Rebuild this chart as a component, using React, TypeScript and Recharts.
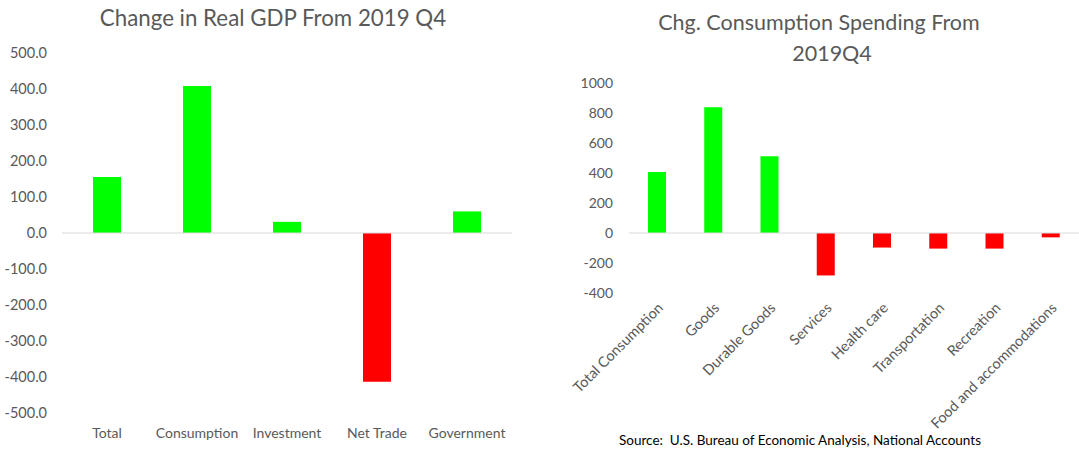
import React from 'react';
import { BarChart, Bar, XAxis, YAxis, ReferenceLine, Cell } from 'recharts';

const gdpCategories = ['Total', 'Consumption', 'Investment', 'Net Trade', 'Government'];
const gdpValues = [155.6, 408, 31, -413, 60];
const gdpTicks = [-500, -400, -300, -200, -100, 0, 100, 200, 300, 400, 500];

const consCategories = [
  'Total Consumption',
  'Goods',
  'Durable Goods',
  'Services',
  'Health care',
  'Transportation',
  'Recreation',
  'Food and accommodations',
];
const consValues = [407, 838, 511, -283, -97, -104, -104, -29];
const consTicks = [-400, -200, 0, 200, 400, 600, 800, 1000];

const gdpData = gdpCategories.map((name, i) => ({ name, value: gdpValues[i] }));
const consData = consCategories.map((name, i) => ({ name, value: consValues[i] }));

const FONT = 'Lato, "Open Sans", sans-serif';
const GRAY = '#595959';
const POS = '#00ff00';
const NEG = '#ff0000';

const AngledTick = (props: any) => {
  const { x, y, payload } = props;
  return (
    <g transform={`translate(${x + 4},${y + 13}) rotate(-45)`}>
      <text x={0} y={0} dy={4} textAnchor="end" fill={GRAY} fontSize={14.5} fontFamily={FONT}>
        {payload.value}
      </text>
    </g>
  );
};

export default function App() {
  return (
    <div style={{ position: 'absolute', left: 0, top: 0, width: 1079, height: 449, background: '#fff', fontFamily: FONT }}>
      <div style={{ position: 'absolute', left: 0, width: 546, top: 3, textAlign: 'center', fontSize: 22.3, color: GRAY, lineHeight: '30px' }}>
        Change in Real GDP From 2019 Q4
      </div>
      <div style={{ position: 'absolute', left: 619, width: 400, top: 7, textAlign: 'center', fontSize: 21.5, color: GRAY, lineHeight: '30px', whiteSpace: 'nowrap' }}>
        Chg. Consumption Spending From
      </div>
      <div style={{ position: 'absolute', left: 632, width: 400, top: 38, textAlign: 'center', fontSize: 21.5, color: GRAY, lineHeight: '30px', whiteSpace: 'nowrap' }}>
        2019Q4
      </div>
      <div style={{ position: 'absolute', left: 0, top: 0 }}>
        <BarChart width={540} height={449} data={gdpData} margin={{ top: 53, right: 28, bottom: 6, left: 0 }}>
          <XAxis
            dataKey="name"
            axisLine={false}
            tickLine={false}
            tickSize={0}
            tickMargin={15}
            height={30}
            interval={0}
            tick={{ fill: GRAY, fontSize: 14, fontFamily: FONT }}
          />
          <YAxis
            domain={[-500, 500]}
            ticks={gdpTicks}
            axisLine={false}
            tickLine={false}
            tickSize={0}
            tickMargin={15}
            width={62}
            tickFormatter={(v: number) => v.toFixed(1)}
            tick={{ fill: GRAY, fontSize: 14.5, fontFamily: FONT }}
          />
          <ReferenceLine y={0} stroke="#d9d9d9" strokeWidth={1} />
          <Bar dataKey="value" barSize={28} isAnimationActive={false}>
            {gdpData.map((d, i) => (
              <Cell key={i} fill={d.value >= 0 ? POS : NEG} />
            ))}
          </Bar>
        </BarChart>
      </div>
      <div style={{ position: 'absolute', left: 540, top: 0 }}>
        <BarChart width={539} height={449} data={consData} margin={{ top: 83, right: 0, bottom: 16, left: 29 }}>
          <XAxis
            dataKey="name"
            axisLine={false}
            tickLine={false}
            tickSize={0}
            tickMargin={0}
            height={140}
            interval={0}
            tick={<AngledTick />}
          />
          <YAxis
            domain={[-400, 1000]}
            ticks={consTicks}
            axisLine={false}
            tickLine={false}
            tickSize={0}
            tickMargin={16}
            width={60}
            tick={{ fill: GRAY, fontSize: 14, fontFamily: FONT }}
          />
          <ReferenceLine y={0} stroke="#d9d9d9" strokeWidth={1} />
          <Bar dataKey="value" barSize={18} isAnimationActive={false}>
            {consData.map((d, i) => (
              <Cell key={i} fill={d.value >= 0 ? POS : NEG} />
            ))}
          </Bar>
        </BarChart>
      </div>
      <div style={{ position: 'absolute', left: 619, top: 432, fontSize: 13.5, color: '#000', whiteSpace: 'pre', lineHeight: '16px' }}>
        {'Source:  U.S. Bureau of Economic Analysis, National Accounts'}
      </div>
    </div>
  );
}
